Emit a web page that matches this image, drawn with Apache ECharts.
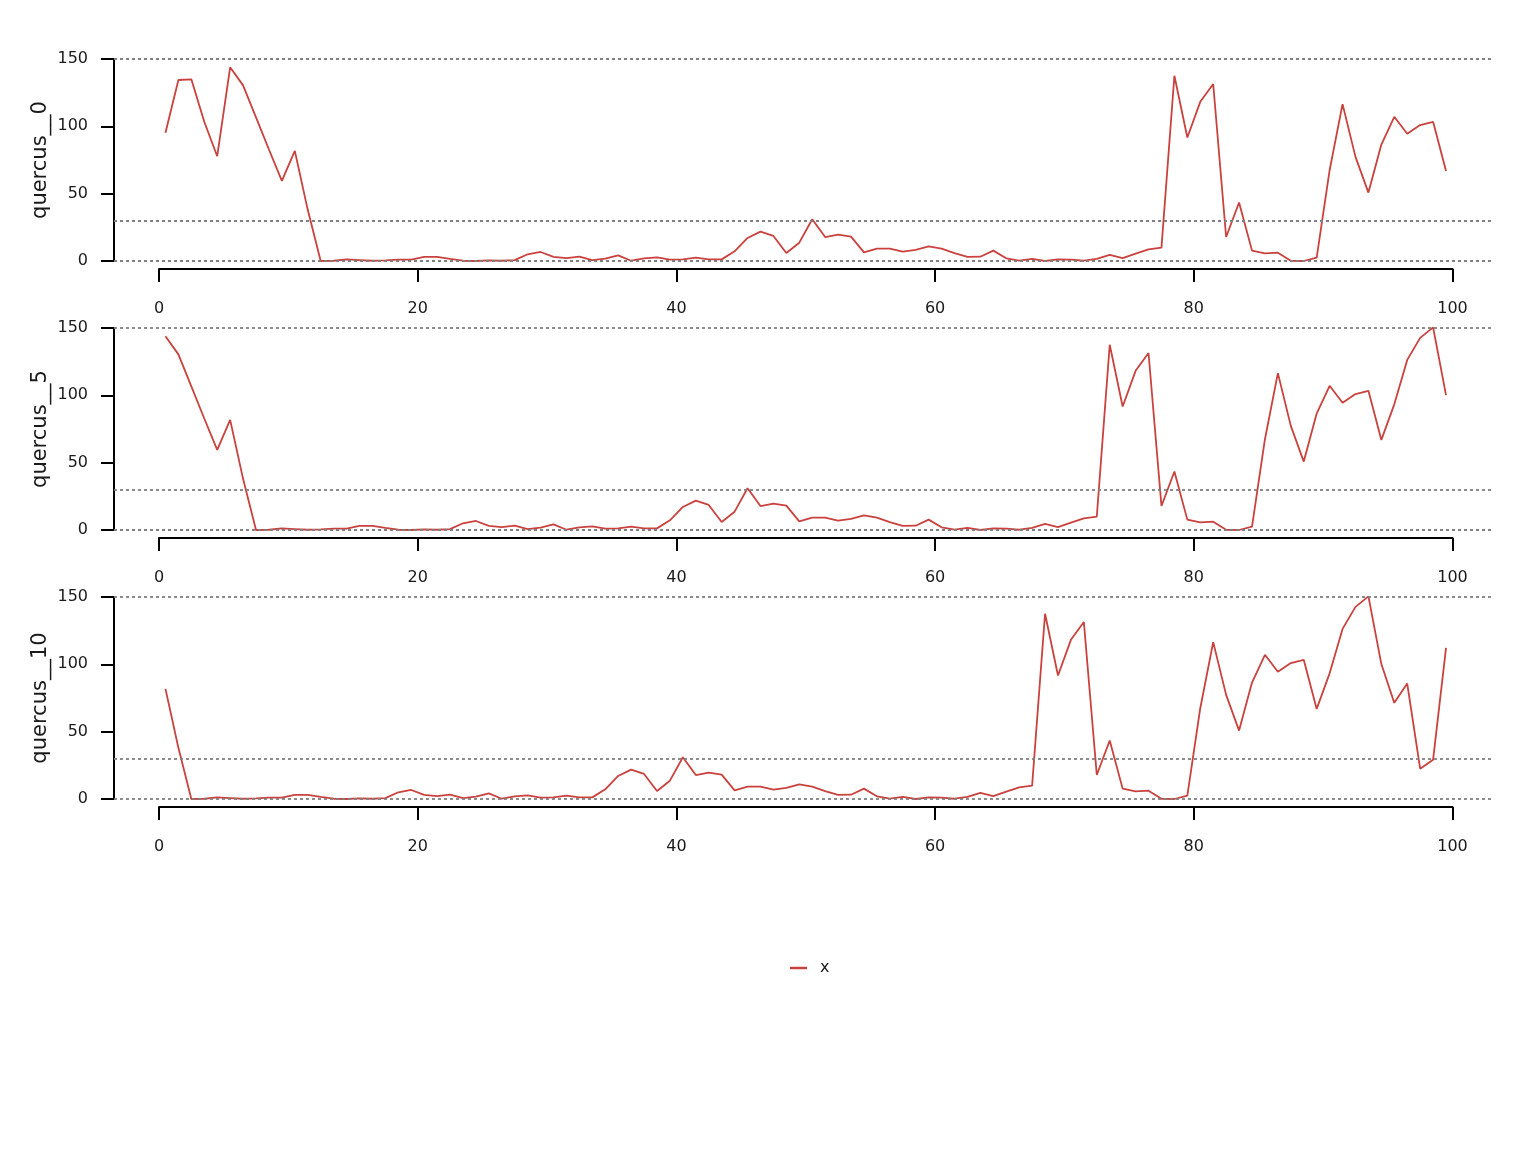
<!DOCTYPE html>
<html>
<head>
<meta charset="utf-8">
<script src="https://cdn.jsdelivr.net/npm/echarts@6/dist/echarts.min.js"></script>
<style>
html,body{margin:0;padding:0;background:#fff;}
#chart{width:1536px;height:1152px;}
</style>
</head>
<body>
<div id="chart"></div>
<script>
const panelNames = ['quercus__0', 'quercus__5', 'quercus__10'];
const seriesName = 'x';
const xTickValues = [0, 20, 40, 60, 80, 100];
const yTickValues = [0, 50, 100, 150];
const refLines = [0, 30, 150];

const quercus0 = [95.2,134.4,134.9,103.4,77.8,143.8,130.4,106.6,82.8,59.5,
81.8,38.0,0,0.2,1.2,0.7,0.2,0.5,1.0,1.0,
3.0,3.0,1.5,0.2,0,0.5,0.2,0.7,5.0,6.7,
3.0,2.2,3.2,0.7,1.7,4.2,0.2,2.0,2.7,1.0,
1.2,2.5,1.2,1.2,7.2,17.1,21.8,18.6,5.9,13.6,
31.0,17.8,19.6,18.1,6.4,9.2,9.2,6.9,8.2,10.9,
9.2,5.9,3.0,3.2,7.7,2.0,0.2,1.5,0,1.2,
1.0,0.2,1.5,4.5,2.2,5.5,8.7,9.9,137.6,91.7,
118.2,131.4,17.8,43.4,7.7,5.7,6.2,0.2,0,2.5,
67.4,116.5,77.3,50.8,86.5,107.1,94.5,100.9,103.4,66.9];

const quercus5 = [143.8,130.4,106.6,82.8,59.5,
81.8,38.0,0,0.2,1.2,0.7,0.2,0.5,1.0,1.0,
3.0,3.0,1.5,0.2,0,0.5,0.2,0.7,5.0,6.7,
3.0,2.2,3.2,0.7,1.7,4.2,0.2,2.0,2.7,1.0,
1.2,2.5,1.2,1.2,7.2,17.1,21.8,18.6,5.9,13.6,
31.0,17.8,19.6,18.1,6.4,9.2,9.2,6.9,8.2,10.9,
9.2,5.9,3.0,3.2,7.7,2.0,0.2,1.5,0,1.2,
1.0,0.2,1.5,4.5,2.2,5.5,8.7,9.9,137.6,91.7,
118.2,131.4,17.8,43.4,7.7,5.7,6.2,0.2,0,2.5,
67.4,116.5,77.3,50.8,86.5,107.1,94.5,100.9,103.4,66.9,
93.3,126.3,142.7,150.5,100.2];

const quercus10 = [81.8,38.0,0,0.2,1.2,0.7,0.2,0.5,1.0,1.0,
3.0,3.0,1.5,0.2,0,0.5,0.2,0.7,5.0,6.7,
3.0,2.2,3.2,0.7,1.7,4.2,0.2,2.0,2.7,1.0,
1.2,2.5,1.2,1.2,7.2,17.1,21.8,18.6,5.9,13.6,
31.0,17.8,19.6,18.1,6.4,9.2,9.2,6.9,8.2,10.9,
9.2,5.9,3.0,3.2,7.7,2.0,0.2,1.5,0,1.2,
1.0,0.2,1.5,4.5,2.2,5.5,8.7,9.9,137.6,91.7,
118.2,131.4,17.8,43.4,7.7,5.7,6.2,0.2,0,2.5,
67.4,116.5,77.3,50.8,86.5,107.1,94.5,100.9,103.4,66.9,
93.3,126.3,142.7,150.5,100.2,71.4,85.7,22.5,29.2,112.2];

const panels = [quercus0, quercus5, quercus10];

const FONT = 'DejaVu Sans';
const TXT = '#1a1a1a';
const RED = '#c9423e';
const PX_PER_UNIT = 12.935;
const DATA_LEFT = 114, DATA_RIGHT = 1492, AXIS_LEFT = 159;
const xMin = (DATA_LEFT - AXIS_LEFT) / PX_PER_UNIT;
const xMax = (DATA_RIGHT - AXIS_LEFT) / PX_PER_UNIT;

const grid = [], xAxis = [], yAxis = [], series = [];
panels.forEach((vals, p) => {
  const top = 59 + 269 * p;
  grid.push({left: DATA_LEFT, width: DATA_RIGHT - DATA_LEFT, top: top, height: 202});
  grid.push({left: AXIS_LEFT, width: 100 * PX_PER_UNIT, top: top + 209, height: 1});
  xAxis.push({gridIndex: 2 * p, type: 'value', min: xMin, max: xMax, show: false});
  xAxis.push({
    gridIndex: 2 * p + 1, type: 'value', min: xTickValues[0], max: xTickValues[xTickValues.length - 1],
    interval: xTickValues[1] - xTickValues[0], position: 'bottom',
    axisLine: {show: true, onZero: false, lineStyle: {color: '#000', width: 2}},
    axisTick: {show: true, length: 13, lineStyle: {color: '#000', width: 2}},
    axisLabel: {margin: 32, fontSize: 16, color: TXT, fontFamily: FONT},
    splitLine: {show: false}
  });
  yAxis.push({
    gridIndex: 2 * p, type: 'value', min: yTickValues[0], max: yTickValues[yTickValues.length - 1],
    interval: yTickValues[1] - yTickValues[0], position: 'left',
    name: panelNames[p], nameLocation: 'middle', nameGap: 63, nameMoveOverlap: false,
    nameTextStyle: {fontSize: 21, color: TXT, fontFamily: FONT},
    axisLine: {show: true, onZero: false, lineStyle: {color: '#000', width: 2}},
    axisTick: {show: true, length: 13, lineStyle: {color: '#000', width: 2}},
    axisLabel: {margin: 26, fontSize: 16, color: TXT, fontFamily: FONT, padding: [3, 0, 0, 0]},
    splitLine: {show: false}
  });
  yAxis.push({gridIndex: 2 * p + 1, type: 'value', min: 0, max: 1, show: false});
  series.push({
    name: seriesName, type: 'line', xAxisIndex: 2 * p, yAxisIndex: 2 * p,
    data: vals.map((v, i) => [i + 0.5, v]),
    symbol: 'none', clip: false,
    lineStyle: {color: RED, width: 1.8}, itemStyle: {color: RED},
    markLine: {
      silent: true, symbol: ['none', 'none'], label: {show: false},
      lineStyle: {color: '#808080', width: 1.8, type: [3, 3]},
      data: refLines.map(v => ({yAxis: v}))
    },
    z: 3
  });
});

const chart = echarts.init(document.getElementById('chart'), null, {renderer: 'canvas'});
chart.setOption({
  backgroundColor: '#fff',
  animation: false,
  grid, xAxis, yAxis, series,
  legend: {
    data: [seriesName], left: 790, top: 960, padding: 0, icon: 'rect', itemWidth: 17, itemHeight: 2.5,
    textStyle: {fontSize: 16, color: TXT, fontFamily: FONT, padding: [0, 0, 0, 8]}
  }
});
</script>
</body>
</html>
